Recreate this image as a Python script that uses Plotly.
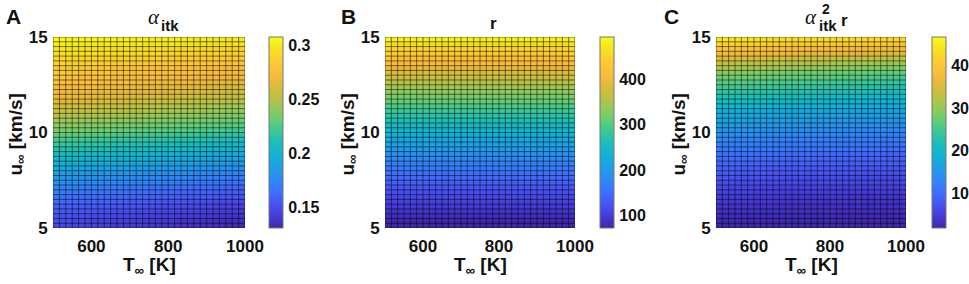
import plotly.graph_objects as go

# ---------------- data ----------------
# mesh nodes (T in K, u in km/s)
T_NODES = [500, 516.67, 533.33, 550, 566.67, 583.33, 600, 616.67, 633.33, 650, 666.67,
           683.33, 700, 716.67, 733.33, 750, 766.67, 783.33, 800, 816.67, 833.33, 850,
           866.67, 883.33, 900, 916.67, 933.33, 950, 966.67, 983.33, 1000]
U_NODES = [5, 5.25, 5.5, 5.75, 6, 6.25, 6.5, 6.75, 7, 7.25, 7.5, 7.75, 8, 8.25, 8.5, 8.75,
           9, 9.25, 9.5, 9.75, 10, 10.25, 10.5, 10.75, 11, 11.25, 11.5, 11.75, 12, 12.25,
           12.5, 12.75, 13, 13.25, 13.5, 13.75, 14, 14.25, 14.5, 14.75, 15]

# alpha_itk x 1000 (rows: u from 5 upward, cols: T from 500 upward)
ALPHA_X1000 = [
    [148,147,147,146,146,145,145,144,144,143,143,142,142,141,141,140,140,139,139,138,138,137,137,136,136,135,135,134,134,133],
    [150,149,149,148,148,147,147,146,146,145,145,144,144,143,143,142,142,141,141,140,140,139,139,138,138,137,137,136,136,135],
    [153,152,152,151,151,150,150,149,149,148,148,147,147,146,146,145,145,144,144,143,143,142,142,141,141,140,140,139,139,138],
    [156,155,155,154,154,153,153,152,152,151,151,150,150,149,149,148,148,147,147,146,146,145,145,144,144,143,143,142,142,141],
    [159,158,158,157,157,156,156,155,155,154,154,153,153,152,152,151,151,150,150,149,149,148,148,147,147,146,146,145,145,144],
    [163,162,162,161,161,160,160,159,159,158,158,157,157,156,156,155,155,154,154,153,153,152,152,151,151,150,150,149,149,148],
    [167,166,166,165,165,164,164,163,163,162,162,161,161,160,160,159,159,158,158,157,157,156,156,155,155,154,154,153,153,152],
    [171,170,170,169,169,168,168,167,167,166,166,165,165,164,164,163,163,162,162,161,161,160,160,159,159,158,158,157,157,156],
    [175,174,174,173,173,172,172,171,171,170,170,169,169,168,168,167,167,166,166,165,165,164,164,163,163,162,162,161,161,160],
    [180,179,179,178,178,177,177,176,176,175,175,174,174,173,173,172,172,171,171,170,170,169,169,168,168,167,167,166,166,165],
    [184,183,183,182,182,181,181,180,180,179,179,178,178,177,177,176,176,175,175,174,174,173,173,172,172,171,171,170,170,169],
    [189,188,188,187,187,186,186,185,185,184,184,183,183,182,182,181,181,180,180,179,179,178,178,177,177,176,176,175,175,174],
    [194,193,193,192,192,191,191,190,190,189,189,188,188,187,187,186,186,185,185,184,184,183,183,182,182,181,181,180,180,179],
    [199,198,198,197,197,196,196,195,195,194,194,193,193,192,192,191,191,190,190,189,189,188,188,187,187,186,186,185,185,184],
    [204,203,203,202,202,201,201,200,200,199,199,198,198,197,197,196,196,195,195,194,194,193,193,192,192,191,191,190,190,189],
    [209,208,208,207,207,206,206,205,205,204,204,203,203,202,202,201,201,200,200,199,199,198,198,197,197,196,196,195,195,194],
    [214,213,213,212,212,211,211,210,210,209,209,208,208,207,207,206,206,205,205,204,204,203,203,202,202,201,201,200,200,199],
    [219,218,218,217,217,216,216,215,215,214,214,213,213,212,212,211,211,210,210,209,209,208,208,207,207,206,206,205,205,204],
    [225,224,224,223,223,222,222,221,221,220,220,219,219,218,218,217,217,216,216,215,215,214,214,213,213,212,212,211,211,210],
    [230,229,229,228,228,227,227,226,226,225,225,224,224,223,223,222,222,221,221,220,220,219,219,218,218,217,217,216,216,215],
    [236,235,235,234,234,233,233,232,232,231,231,230,230,229,229,228,228,227,227,226,226,225,225,224,224,223,223,222,222,221],
    [241,240,240,239,239,238,238,237,237,236,236,235,235,234,234,233,233,232,232,231,231,230,230,229,229,228,228,227,227,226],
    [246,245,245,244,244,243,243,242,242,241,241,240,240,239,239,238,238,237,237,236,236,235,235,234,234,233,233,232,232,231],
    [251,250,250,249,249,248,248,247,247,246,246,245,245,244,244,243,243,242,242,241,241,240,240,239,239,238,238,237,237,236],
    [256,255,255,254,254,253,253,252,252,251,251,250,250,249,249,248,248,247,247,246,246,245,245,244,244,243,243,242,242,241],
    [260,259,259,258,258,257,257,256,256,255,255,254,254,253,253,252,252,251,251,250,250,249,249,248,248,247,247,246,246,245],
    [264,263,263,262,262,261,261,260,260,259,259,258,258,257,257,256,256,255,255,254,254,253,253,252,252,251,251,250,250,249],
    [268,267,267,266,266,265,265,264,264,263,263,262,262,261,261,260,260,259,259,258,258,257,257,256,256,255,255,254,254,253],
    [272,271,271,270,270,269,269,268,268,267,267,266,266,265,265,264,264,263,263,262,262,261,261,260,260,259,259,258,258,257],
    [275,274,274,273,273,272,272,271,271,270,270,269,269,268,268,267,267,266,266,265,265,264,264,263,263,262,262,261,261,260],
    [278,277,277,276,276,275,275,274,274,273,273,272,272,271,271,270,270,269,269,268,268,267,267,266,266,265,265,264,264,263],
    [281,281,280,280,279,279,279,278,278,277,277,276,276,276,275,275,274,274,274,273,273,272,272,271,271,271,270,270,269,269],
    [284,284,283,283,282,282,282,281,281,280,280,279,279,279,278,278,277,277,277,276,276,275,275,274,274,274,273,273,272,272],
    [287,287,286,286,285,285,285,284,284,283,283,282,282,282,281,281,280,280,280,279,279,278,278,277,277,277,276,276,275,275],
    [290,290,289,289,288,288,288,287,287,286,286,285,285,285,284,284,283,283,283,282,282,281,281,280,280,280,279,279,278,278],
    [293,293,292,292,292,291,291,291,291,290,290,290,289,289,289,288,288,288,287,287,287,286,286,286,286,285,285,285,284,284],
    [296,296,295,295,295,294,294,294,294,293,293,293,292,292,292,291,291,291,290,290,290,289,289,289,289,288,288,288,287,287],
    [299,299,298,298,298,297,297,297,297,296,296,296,295,295,295,294,294,294,293,293,293,292,292,292,292,291,291,291,290,290],
    [302,302,302,301,301,301,301,301,300,300,300,300,300,299,299,299,299,298,298,298,298,298,297,297,297,297,297,296,296,296],
    [305,305,305,304,304,304,304,304,303,303,303,303,303,302,302,302,302,301,301,301,301,301,300,300,300,300,300,299,299,299],
]

# r per u-row (uniform across T)
R_ROWS = [70, 76, 83, 90, 97, 104, 112, 119, 127, 135, 144, 153, 162, 171, 180, 190, 200, 209,
          219, 230, 240, 251, 262, 273, 285, 296, 308, 320, 332, 344, 357, 370, 383, 396, 409,
          423, 437, 451, 465, 480]

# alpha_itk^2 r x 10
A2R_X10 = [
    [22,22,22,22,21,21,21,21,21,21,21,20,20,20,20,20,20,20,20,19,19,19,19,19,19,19,18,18,18,18],
    [25,25,25,25,24,24,24,24,24,24,24,23,23,23,23,23,23,23,23,22,22,22,22,22,22,22,21,21,21,21],
    [29,29,29,29,28,28,28,28,28,28,28,27,27,27,27,27,27,27,27,26,26,26,26,26,26,26,25,25,25,25],
    [33,33,33,33,32,32,32,32,32,32,32,31,31,31,31,31,31,31,31,30,30,30,30,30,30,30,29,29,29,29],
    [38,38,38,38,37,37,37,37,37,37,37,36,36,36,36,36,36,36,36,35,35,35,35,35,35,35,34,34,34,34],
    [43,43,42,42,42,42,41,41,41,41,40,40,40,39,39,39,39,38,38,38,37,37,37,37,36,36,36,36,35,35],
    [48,48,47,47,47,47,46,46,46,46,45,45,45,44,44,44,44,43,43,43,42,42,42,42,41,41,41,41,40,40],
    [54,54,53,53,53,53,52,52,52,52,51,51,51,50,50,50,50,49,49,49,48,48,48,48,47,47,47,47,46,46],
    [60,60,59,59,59,59,58,58,58,58,57,57,57,56,56,56,56,55,55,55,54,54,54,54,53,53,53,53,52,52],
    [66,66,65,65,65,65,64,64,64,64,63,63,63,62,62,62,62,61,61,61,60,60,60,60,59,59,59,59,58,58],
    [73,73,72,72,71,71,71,70,70,69,69,68,68,68,67,67,66,66,66,65,65,64,64,63,63,63,62,62,61,61],
    [80,80,79,79,78,78,78,77,77,76,76,75,75,75,74,74,73,73,73,72,72,71,71,70,70,70,69,69,68,68],
    [87,87,86,86,85,85,85,84,84,83,83,82,82,82,81,81,80,80,80,79,79,78,78,77,77,77,76,76,75,75],
    [94,94,93,93,92,92,92,91,91,90,90,89,89,89,88,88,87,87,87,86,86,85,85,84,84,84,83,83,82,82],
    [101,101,100,100,99,99,99,98,98,97,97,96,96,96,95,95,94,94,94,93,93,92,92,91,91,91,90,90,89,89],
    [109,108,108,107,107,106,106,105,105,104,103,103,102,102,101,101,100,100,99,99,98,97,97,96,96,95,95,94,94,93],
    [117,116,116,115,115,114,114,113,113,112,111,111,110,110,109,109,108,108,107,107,106,105,105,104,104,103,103,102,102,101],
    [125,124,124,123,123,122,122,121,121,120,119,119,118,118,117,117,116,116,115,115,114,113,113,112,112,111,111,110,110,109],
    [133,132,132,131,131,130,130,129,129,128,127,127,126,126,125,125,124,124,123,123,122,121,121,120,120,119,119,118,118,117],
    [141,140,140,139,138,138,137,136,135,135,134,133,133,132,131,131,130,129,129,128,127,127,126,125,124,124,123,122,122,121],
    [150,149,149,148,147,147,146,145,144,144,143,142,142,141,140,140,139,138,138,137,136,136,135,134,133,133,132,131,131,130],
    [159,158,158,157,156,156,155,154,153,153,152,151,151,150,149,149,148,147,147,146,145,145,144,143,142,142,141,140,140,139],
    [169,168,168,167,166,166,165,164,163,163,162,161,161,160,159,159,158,157,157,156,155,155,154,153,152,152,151,150,150,149],
    [179,178,178,177,176,176,175,174,173,173,172,171,171,170,169,169,168,167,167,166,165,165,164,163,162,162,161,160,160,159],
    [190,189,188,188,187,186,185,184,183,183,182,181,180,179,178,178,177,176,175,174,173,173,172,171,170,169,168,168,167,166],
    [201,200,199,199,198,197,196,195,194,194,193,192,191,190,189,189,188,187,186,185,184,184,183,182,181,180,179,179,178,177],
    [213,212,211,211,210,209,208,207,206,206,205,204,203,202,201,201,200,199,198,197,196,196,195,194,193,192,191,191,190,189],
    [225,224,223,223,222,221,220,219,218,218,217,216,215,214,213,213,212,211,210,209,208,208,207,206,205,204,203,203,202,201],
    [238,237,236,236,235,234,233,232,231,231,230,229,228,227,226,226,225,224,223,222,221,221,220,219,218,217,216,216,215,214],
    [251,250,249,249,248,247,246,245,244,244,243,242,241,240,239,239,238,237,236,235,234,234,233,232,231,230,229,229,228,227],
    [265,264,263,262,261,260,259,258,257,256,255,254,253,252,251,251,250,249,248,247,246,245,244,243,242,241,240,239,238,237],
    [280,279,278,277,276,275,274,273,272,271,270,269,268,267,266,266,265,264,263,262,261,260,259,258,257,256,255,254,253,252],
    [296,295,294,293,292,291,290,289,288,287,286,285,284,283,282,282,281,280,279,278,277,276,275,274,273,272,271,270,269,268],
    [313,312,311,310,309,308,307,306,305,304,303,302,301,300,299,299,298,297,296,295,294,293,292,291,290,289,288,287,286,285],
    [332,331,330,329,328,327,326,325,324,323,322,321,320,319,318,318,317,316,315,314,313,312,311,310,309,308,307,306,305,304],
    [352,351,350,349,348,347,346,345,344,343,342,341,340,339,338,338,337,336,335,334,333,332,331,330,329,328,327,326,325,324],
    [373,372,371,371,370,369,368,367,366,366,365,364,363,362,361,361,360,359,358,357,356,356,355,354,353,352,351,351,350,349],
    [395,394,393,393,392,391,390,389,388,388,387,386,385,384,383,383,382,381,380,379,378,378,377,376,375,374,373,373,372,371],
    [418,417,416,416,415,414,413,412,411,411,410,409,408,407,406,406,405,404,403,402,401,401,400,399,398,397,396,396,395,394],
    [442,441,441,440,439,439,438,437,436,436,435,434,434,433,432,432,431,430,430,429,428,428,427,426,425,425,424,423,423,422],
]

# colour limits
ALPHA_CLIM = [0.131, 0.308]
R_CLIM = [72, 493]
A2R_CLIM = [1.9, 46.7]

X_TICKS = [600, 800, 1000]
Y_TICKS = [5, 10, 15]
ALPHA_CB_TICKS = [0.15, 0.2, 0.25, 0.3]
R_CB_TICKS = [100, 200, 300, 400]
A2R_CB_TICKS = [10, 20, 30, 40]

# ---------------- build tables ----------------
alpha_z = [[v / 1000 for v in row] for row in ALPHA_X1000]
r_z = [[v] * (len(T_NODES) - 1) for v in R_ROWS]
a2r_z = [[v / 10 for v in row] for row in A2R_X10]

PARULA = [
    [0.000, "rgb(62,38,168)"], [0.060, "rgb(69,58,214)"], [0.125, "rgb(72,84,244)"],
    [0.190, "rgb(60,112,253)"], [0.250, "rgb(45,136,246)"], [0.310, "rgb(31,156,232)"],
    [0.375, "rgb(18,177,214)"], [0.440, "rgb(24,189,189)"], [0.500, "rgb(55,199,153)"],
    [0.560, "rgb(98,204,120)"], [0.625, "rgb(146,202,90)"], [0.690, "rgb(192,193,66)"],
    [0.750, "rgb(226,186,58)"], [0.810, "rgb(250,188,62)"], [0.875, "rgb(253,203,50)"],
    [0.940, "rgb(244,228,32)"], [1.000, "rgb(249,251,21)"],
]

W, H = 969, 284
FONT = "Liberation Sans, Arial, Helvetica, sans-serif"


def px(x):
    return x / W


def py(y):
    return 1 - y / H


PLOT_X = [(53, 245), (385, 575), (716, 906)]
PLOT_Y = (37, 228)
CB_X = [269, 600, 932]

fig = go.Figure()

panels = [
    (alpha_z, ALPHA_CLIM, ALPHA_CB_TICKS),
    (r_z, R_CLIM, R_CB_TICKS),
    (a2r_z, A2R_CLIM, A2R_CB_TICKS),
]

# grid-line coordinates from mesh nodes
gx, gy = [], []
for t in T_NODES:
    gx += [t, t, None]
    gy += [U_NODES[0], U_NODES[-1], None]
for u in U_NODES:
    gx += [T_NODES[0], T_NODES[-1], None]
    gy += [u, u, None]

for k, (z, clim, cbt) in enumerate(panels):
    xa = "x" if k == 0 else f"x{k+1}"
    ya = "y" if k == 0 else f"y{k+1}"
    fig.add_trace(go.Heatmap(
        x=T_NODES, y=U_NODES, z=z, zmin=clim[0], zmax=clim[1],
        colorscale=PARULA, xaxis=xa, yaxis=ya, hoverinfo="skip",
        colorbar=dict(
            x=px(CB_X[k]), xanchor="left", xref="paper",
            y=py((PLOT_Y[0] + PLOT_Y[1]) / 2), yanchor="middle",
            len=(PLOT_Y[1] - PLOT_Y[0]) / H, lenmode="fraction",
            thickness=14, thicknessmode="pixels", xpad=0, ypad=0,
            outlinewidth=1, outlinecolor="#777",
            tickvals=cbt, ticks="outside", ticklen=2, tickcolor="rgba(0,0,0,0)",
            tickfont=dict(family=FONT, size=16, color="#111", weight="bold"),
        ),
    ))
    fig.add_trace(go.Scatter(
        x=gx, y=gy, mode="lines", xaxis=xa, yaxis=ya, hoverinfo="skip",
        line=dict(color="rgba(0,0,0,0.5)", width=1), showlegend=False,
    ))

layout = dict(
    width=W, height=H, margin=dict(l=0, r=0, t=0, b=0, autoexpand=False),
    paper_bgcolor="white", plot_bgcolor="white", showlegend=False,
)
for k in range(3):
    sx = "xaxis" if k == 0 else f"xaxis{k+1}"
    sy = "yaxis" if k == 0 else f"yaxis{k+1}"
    yname = "y" if k == 0 else f"y{k+1}"
    xname = "x" if k == 0 else f"x{k+1}"
    layout[sx] = dict(
        domain=[px(PLOT_X[k][0]), px(PLOT_X[k][1])], range=[500, 1000], anchor=yname,
        tickvals=X_TICKS, ticks="outside", ticklen=3, tickcolor="rgba(0,0,0,0)",
        showgrid=False, zeroline=False, showline=False, automargin=False,
        tickfont=dict(family=FONT, size=17, color="#111", weight="bold"),
    )
    layout[sy] = dict(
        domain=[py(PLOT_Y[1]), py(PLOT_Y[0])], range=[5, 15], anchor=xname,
        tickvals=Y_TICKS, ticks="outside", ticklen=1, tickcolor="rgba(0,0,0,0)",
        showgrid=False, zeroline=False, showline=False, automargin=False,
        tickfont=dict(family=FONT, size=17, color="#111", weight="bold"),
    )
fig.update_layout(**layout)

ann = []


def add_text(text, x, y, size, xanchor="center", yanchor="middle", angle=0,
             family=FONT, weight="bold", style="normal"):
    ann.append(dict(
        text=text, x=px(x), y=py(y), xref="paper", yref="paper", showarrow=False,
        xanchor=xanchor, yanchor=yanchor, textangle=angle, borderpad=0,
        font=dict(family=family, size=size, color="#111", weight=weight, style=style),
    ))


SERIF = "Liberation Serif, Times New Roman, serif"
for k, letter in enumerate(["A", "B", "C"]):
    lx = [5, 340, 663][k]
    add_text(letter, lx, 16, 21, xanchor="left")
    cx = (PLOT_X[k][0] + PLOT_X[k][1]) / 2
    add_text("T<sub>∞</sub> [K]", cx, 266, 19)
    add_text("u<sub>∞</sub> [km/s]", PLOT_X[k][0] - 37, (PLOT_Y[0] + PLOT_Y[1]) / 2 + 2, 19, angle=-90)

# panel titles
add_text("α", 147, 17, 21, xanchor="left", family=SERIF, weight="normal", style="italic")
add_text("itk", 160, 26, 15, xanchor="left")
add_text("r", 489, 23, 17, xanchor="left")
add_text("α", 804, 17, 21, xanchor="left", family=SERIF, weight="normal", style="italic")
add_text("2", 821, 9, 14, xanchor="left")
add_text("itk", 818, 26, 15, xanchor="left")
add_text("r", 840, 20, 17, xanchor="left")

fig.update_layout(annotations=ann)
fig.write_html("out.html", config={"displayModeBar": False},
               post_script="document.body.style.margin='0';")
